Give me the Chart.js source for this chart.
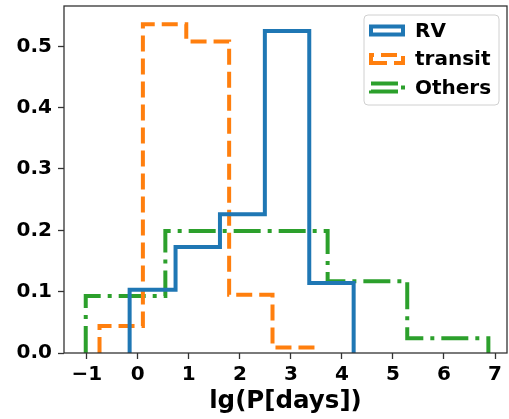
<!DOCTYPE html>
<html><head><meta charset="utf-8">
<script src="https://cdn.jsdelivr.net/npm/chart.js@4"></script>
<style>html,body{margin:0;padding:0;background:#fff;} #wrap{width:509px;height:419px;position:relative;}</style>
</head><body><div id="wrap"><canvas id="c" width="509" height="419" style="width:509px;height:419px;display:block;"></canvas></div>
<script>
// ---- data ----
const seriesLabels = ['RV', 'transit', 'Others'];
const rvEdges = [-0.16, 0.74, 1.61, 2.49, 3.36, 4.23];
const rvHeights = [0.103, 0.173, 0.226, 0.525, 0.114];
const transitEdges = [-0.75, 0.10, 0.95, 1.79, 2.64, 3.48];
const transitHeights = [0.044, 0.536, 0.508, 0.095, 0.009];
const othersEdges = [-1.02, 0.54, 2.13, 3.72, 5.28, 6.87];
const othersHeights = [0.093, 0.199, 0.199, 0.117, 0.024];
const xTicks = [-1, 0, 1, 2, 3, 4, 5, 6, 7];
const yTicks = [0.0, 0.1, 0.2, 0.3, 0.4, 0.5];
const xTitle = 'lg(P[days])';

// step-histogram outline built from edges & heights
function stepOutline(edges, heights) {
  const pts = [{x: edges[0], y: 0}];
  heights.forEach((h, i) => {
    pts.push({x: edges[i], y: h});
    pts.push({x: edges[i + 1], y: h});
  });
  pts.push({x: edges[edges.length - 1], y: 0});
  return pts;
}

const FONT = "'DejaVu Sans', sans-serif";
const styles = [
  {color: '#1f77b4', dash: []},
  {color: '#ff7f0e', dash: [16, 7]},
  {color: '#2ca02c', dash: [27, 7, 4, 7]}
];
const seriesData = [
  stepOutline(rvEdges, rvHeights),
  stepOutline(transitEdges, transitHeights),
  stepOutline(othersEdges, othersHeights)
];

const framePlugin = {
  id: 'frame',
  afterDatasetsDraw(chart) {
    const a = chart.chartArea, ctx = chart.ctx;
    ctx.save();
    ctx.strokeStyle = '#333';
    ctx.lineWidth = 1.3;
    ctx.strokeRect(a.left, a.top, a.right - a.left, a.bottom - a.top);
    ctx.restore();
  }
};

const legendPlugin = {
  id: 'customLegend',
  afterDraw(chart) {
    const ctx = chart.ctx;
    const bx = 364, by = 15, bw = 135, bh = 90, r = 4;
    ctx.save();
    ctx.beginPath();
    ctx.moveTo(bx + r, by);
    ctx.arcTo(bx + bw, by, bx + bw, by + bh, r);
    ctx.arcTo(bx + bw, by + bh, bx, by + bh, r);
    ctx.arcTo(bx, by + bh, bx, by, r);
    ctx.arcTo(bx, by, bx + bw, by, r);
    ctx.closePath();
    ctx.fillStyle = 'rgba(255,255,255,0.8)';
    ctx.fill();
    ctx.strokeStyle = '#d0d0d0';
    ctx.lineWidth = 1;
    ctx.stroke();
    const rows = [30.5, 59, 87.5];
    chart.data.datasets.forEach((ds, i) => {
      const cy = rows[i];
      const x0 = 371, x1 = 403, y0 = cy - 4, y1 = cy + 4;
      ctx.beginPath();
      ctx.moveTo(x0, y1);
      ctx.lineTo(x1, y1);
      ctx.lineTo(x1, y0);
      ctx.lineTo(x0, y0);
      ctx.closePath();
      ctx.setLineDash(ds.borderDash || []);
      ctx.lineWidth = 4;
      ctx.lineJoin = 'miter';
      ctx.lineCap = 'butt';
      ctx.strokeStyle = ds.borderColor;
      ctx.stroke();
      ctx.setLineDash([]);
      ctx.fillStyle = '#000';
      ctx.font = "bold 20px " + FONT;
      ctx.textBaseline = 'middle';
      ctx.textAlign = 'left';
      ctx.fillText(ds.label, 415, cy + 1);
    });
    ctx.restore();
  }
};

new Chart(document.getElementById('c'), {
  type: 'line',
  data: {
    datasets: seriesLabels.map((lab, i) => ({
      label: lab,
      data: seriesData[i],
      borderColor: styles[i].color,
      backgroundColor: 'rgba(0,0,0,0)',
      borderDash: styles[i].dash,
      borderWidth: 4,
      borderCapStyle: 'butt',
      borderJoinStyle: 'miter',
      pointRadius: 0,
      pointHoverRadius: 0,
      fill: false,
      tension: 0,
      clip: 4
    }))
  },
  options: {
    responsive: false,
    animation: false,
    devicePixelRatio: 1,
    layout: {padding: {left: 0, right: 2, top: 6, bottom: 0}},
    plugins: {legend: {display: false}, tooltip: {enabled: false}},
    scales: {
      x: {
        type: 'linear',
        min: -1.446, max: 7.235,
        afterFit(s) { s.height = 66; s.paddingLeft = 0; s.paddingRight = 0; },
        afterBuildTicks(s) { s.ticks = xTicks.map(v => ({value: v})); },
        border: {display: false},
        grid: {drawOnChartArea: false, drawTicks: true, tickLength: 6, tickColor: '#333', tickWidth: 1.3},
        ticks: {
          color: '#000', padding: 4,
          font: {family: FONT, size: 20, weight: 'bold'},
          callback: v => (v < 0 ? '\u2212' + Math.abs(v) : String(v)),
          maxRotation: 0, autoSkip: false
        },
        title: {display: true, text: xTitle, color: '#000',
          font: {family: FONT, size: 24.5, weight: 'bold'}, padding: {top: 0, bottom: 3}}
      },
      y: {
        type: 'linear',
        min: 0, max: 0.5657,
        afterFit(s) { s.width = 64; s.paddingTop = 0; s.paddingBottom = 0; },
        afterBuildTicks(s) { s.ticks = yTicks.map(v => ({value: v})); },
        border: {display: false},
        grid: {drawOnChartArea: false, drawTicks: true, tickLength: 6, tickColor: '#333', tickWidth: 1.3},
        ticks: {
          color: '#000', padding: 6,
          font: {family: FONT, size: 20, weight: 'bold'},
          callback: v => Number(v).toFixed(1),
          autoSkip: false
        }
      }
    }
  },
  plugins: [framePlugin, legendPlugin]
});
</script>
</body></html>
